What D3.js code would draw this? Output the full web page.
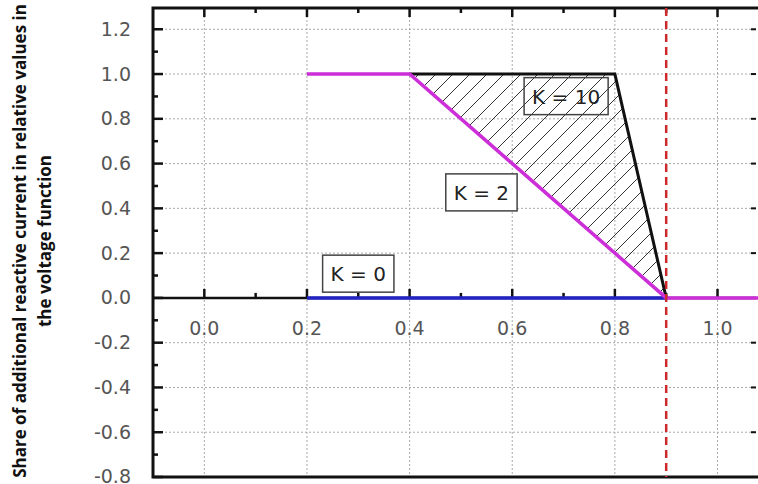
<!DOCTYPE html>
<html>
<head>
<meta charset="utf-8">
<script src="https://cdn.jsdelivr.net/npm/d3@7"></script>
<style>
  body { margin: 0; background: #fff; }
  svg { display: block; }
</style>
</head>
<body>
<script>
// chart data
const xTicks = [0.0, 0.2, 0.4, 0.6, 0.8, 1.0];
const yTicks = [-0.8, -0.6, -0.4, -0.2, 0.0, 0.2, 0.4, 0.6, 0.8, 1.0, 1.2];
const k0X = [0.2, 0.9], k0Y = [0, 0];
const k2X = [0.2, 0.4, 0.9, 1.08], k2Y = [1, 1, 0, 0];
const k10X = [0.4, 0.8, 0.9], k10Y = [1, 1, 0];
const limitX = 0.9;
const labels = ["K = 0", "K = 2", "K = 10"];
const labelX = [0.3, 0.54, 0.705], labelY = [0.107, 0.47, 0.9];
const yTitle = ["Share of additional reactive current in relative values in", "the voltage function"];

const width = 758, height = 484,
      svg = d3.select("body").append("svg").attr("width", width).attr("height", height),
      x = d3.scaleLinear().domain([-0.1, 1.075]).range([153, 756]),
      y = d3.scaleLinear().domain([-0.8, 1.295]).range([477, 8]),
      zip = (a, b) => a.map((v, i) => [v, b[i]]),
      fmt = d => d3.format(".1f")(d).replace("\u2212", "-"),
      line = d3.line().x(d => x(d[0])).y(d => y(d[1]));

// hatch pattern
svg.append("defs").append("pattern")
   .attr("id", "hatch").attr("patternUnits", "userSpaceOnUse")
   .attr("width", 17).attr("height", 17)
   .append("path")
   .attr("d", "M0,17 L17,0 M-4,4 L4,-4 M13,21 L21,13")
   .attr("stroke", "#333").attr("stroke-width", 1);

// grid
svg.selectAll(".gx").data(xTicks).enter().append("line")
   .attr("x1", d => x(d)).attr("x2", d => x(d)).attr("y1", y.range()[1]).attr("y2", y.range()[0])
   .attr("stroke", "#aaa").attr("stroke-dasharray", "2,2");
svg.selectAll(".gy").data(yTicks).enter().append("line")
   .attr("x1", x.range()[0]).attr("x2", x.range()[1]).attr("y1", d => y(d)).attr("y2", d => y(d))
   .attr("stroke", "#aaa").attr("stroke-dasharray", "2,2");

// hatched area between K=10 and K=2
svg.append("path")
   .attr("d", line(zip(k10X, k10Y)) + "Z")
   .attr("fill", "url(#hatch)");

// left axis with inner ticks
const yMinor = d3.range(-8, 13).map(v => v / 10);
svg.selectAll(".ty").data(yMinor).enter().append("line")
   .attr("x1", x.range()[0]).attr("x2", (d, i) => x.range()[0] + (i % 2 === 0 ? 10 : 5))
   .attr("y1", d => y(d)).attr("y2", d => y(d))
   .attr("stroke", "#111").attr("stroke-width", 2.5);
svg.selectAll(".tr").data(yTicks).enter().append("line")
   .attr("x1", x.range()[1]).attr("x2", x.range()[1] - 5)
   .attr("y1", d => y(d)).attr("y2", d => y(d))
   .attr("stroke", "#111").attr("stroke-width", 2);
svg.selectAll(".ly").data(yTicks).enter().append("text")
   .attr("x", 131).attr("y", d => y(d)).attr("dy", "0.34em")
   .attr("text-anchor", "end")
   .attr("font-family", "DejaVu Sans").attr("font-size", 19).attr("fill", "#555")
   .text(fmt);

// top and zero axis ticks
const xMinor = d3.range(0, 11).map(v => v / 10);
svg.selectAll(".tt").data(xMinor).enter().append("line")
   .attr("x1", d => x(d)).attr("x2", d => x(d))
   .attr("y1", y.range()[1]).attr("y2", (d, i) => y.range()[1] + (i % 2 === 0 ? 9 : 5))
   .attr("stroke", "#111").attr("stroke-width", 2.5);
svg.selectAll(".tz").data(xMinor).enter().append("line")
   .attr("x1", d => x(d)).attr("x2", d => x(d))
   .attr("y1", y(0)).attr("y2", (d, i) => y(0) - (i % 2 === 0 ? 9 : 5))
   .attr("stroke", "#111").attr("stroke-width", 2.5);
svg.append("line")
   .attr("x1", x.range()[0]).attr("x2", x.range()[1]).attr("y1", y(0)).attr("y2", y(0))
   .attr("stroke", "#111").attr("stroke-width", 2.5);
svg.selectAll(".lx").data(xTicks).enter().append("text")
   .attr("x", d => x(d)).attr("y", y(0) + 30).attr("dy", "0.36em")
   .attr("text-anchor", "middle")
   .attr("font-family", "DejaVu Sans").attr("font-size", 19).attr("fill", "#555")
   .text(fmt);

// frame
svg.append("path")
   .attr("d", `M${x.range()[1] + 4},${y.range()[1]}H${x.range()[0]}V${y.range()[0]}H${x.range()[1] + 4}`)
   .attr("fill", "none").attr("stroke", "#111").attr("stroke-width", 3);

// series
svg.append("path").attr("d", line(zip(k10X, k10Y)))
   .attr("fill", "none").attr("stroke", "#111").attr("stroke-width", 3);
svg.append("path").attr("d", line(zip(k0X, k0Y)))
   .attr("fill", "none").attr("stroke", "#2323c4").attr("stroke-width", 3.5);
svg.append("path").attr("d", line(zip(k2X, k2Y)))
   .attr("fill", "none").attr("stroke", "#cc2ed8").attr("stroke-width", 3.5);
svg.append("line")
   .attr("x1", x(limitX)).attr("x2", x(limitX)).attr("y1", y.range()[1]).attr("y2", y.range()[0])
   .attr("stroke", "#cc2a2a").attr("stroke-width", 2.5).attr("stroke-dasharray", "8,5");

// labels in boxes
labels.forEach((t, i) => {
  const g = svg.append("g");
  const txt = g.append("text")
     .attr("x", x(labelX[i])).attr("y", y(labelY[i])).attr("dy", "0.36em")
     .attr("text-anchor", "middle")
     .attr("font-family", "DejaVu Sans").attr("font-size", 20).attr("fill", "#222")
     .text(t);
  const b = txt.node().getBBox();
  g.insert("rect", "text")
     .attr("x", b.x - 8).attr("y", b.y - 7).attr("width", b.width + 16).attr("height", b.height + 13)
     .attr("fill", i === 2 ? "none" : "#fff").attr("stroke", "#444").attr("stroke-width", 1.5);
});

// y axis title
svg.selectAll(".yt").data(yTitle).enter().append("text")
   .attr("transform", (d, i) => `translate(${i === 0 ? 20 : 45},241) rotate(-90)`)
   .attr("dy", "0.36em")
   .attr("text-anchor", "middle")
   .attr("font-family", "Open Sans").attr("font-weight", "bold").attr("font-size", 17).attr("fill", "#111")
   .text(d => d);
</script>
</body>
</html>
